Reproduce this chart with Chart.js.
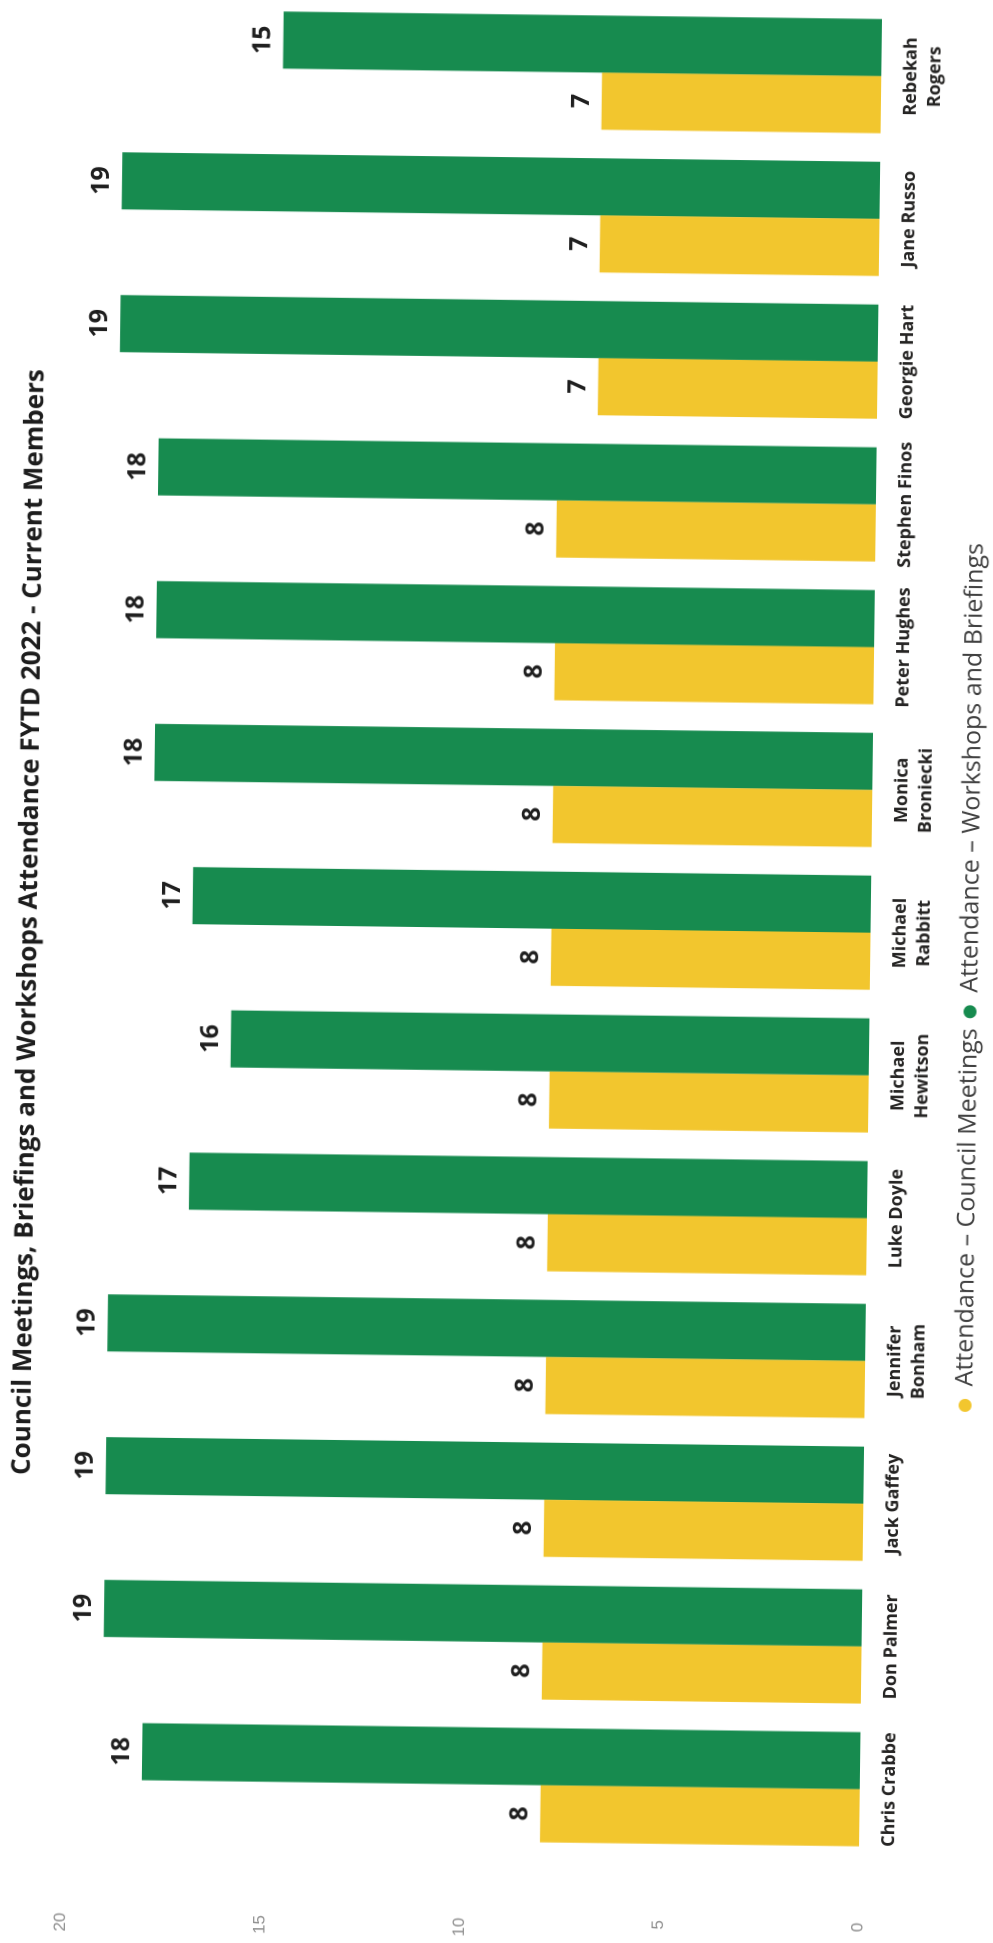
<!DOCTYPE html>
<html>
<head>
<meta charset="utf-8">
<title>Council Meetings, Briefings and Workshops Attendance FYTD 2022</title>
<script src="https://cdn.jsdelivr.net/npm/chart.js@4"></script>
<style>
    html, body { margin: 0; padding: 0; background: #fff; overflow: hidden; }
    #page {
        position: absolute; left: 0; top: 0;
        width: 993px; height: 1943px;
        transform-origin: 496.5px 971.5px;
        transform: rotate(0.72deg);
    }
    /* the chart is laid out landscape and turned onto the portrait page */
    #turn {
        position: absolute; left: 0; top: 0;
        width: 1943px; height: 993px;
        transform-origin: 0 0;
        transform: translate(0, 1943px) rotate(-90deg);
    }
</style>
</head>
<body>
<div id="page">
    <div id="turn">
        <canvas id="attendanceChart" width="1943" height="993"></canvas>
    </div>
</div>
<script>
const members = [
    'Chris Crabbe', 'Don Palmer', 'Jack Gaffey', ['Jennifer', 'Bonham'], 'Luke Doyle',
    ['Michael', 'Hewitson'], ['Michael', 'Rabbitt'], ['Monica', 'Broniecki'], 'Peter Hughes',
    'Stephen Finos', 'Georgie Hart', 'Jane Russo', ['Rebekah', 'Rogers']
];
const councilMeetings = [8, 8, 8, 8, 8, 8, 8, 8, 8, 8, 7, 7, 7];
const workshopsBriefings = [18, 19, 19, 19, 17, 16, 17, 18, 18, 18, 19, 19, 15];
const valueTicks = [0, 5, 10, 15, 20];

// value printed above the end of each bar
const barValueLabels = {
    id: 'barValueLabels',
    afterDatasetsDraw(chart) {
        const ctx = chart.ctx;
        ctx.save();
        ctx.font = 'bold 25px "Open Sans"';
        ctx.fillStyle = '#1f1f1f';
        ctx.textAlign = 'center';
        ctx.textBaseline = 'alphabetic';
        chart.data.datasets.forEach((ds, i) => {
            chart.getDatasetMeta(i).data.forEach((bar, j) => {
                ctx.fillText(ds.data[j], bar.x, bar.y - 13);
            });
        });
        ctx.restore();
    }
};

Chart.defaults.font.family = '"Open Sans", sans-serif';

const attendanceChart = new Chart(document.getElementById('attendanceChart'), {
    type: 'bar',
    data: {
        labels: members,
        datasets: [{
            label: 'Attendance – Council Meetings',
            data: councilMeetings,
            backgroundColor: '#f2c62e',
            categoryPercentage: 0.8,
            barPercentage: 1.0
        }, {
            label: 'Attendance – Workshops and Briefings',
            data: workshopsBriefings,
            backgroundColor: '#178b4f',
            categoryPercentage: 0.8,
            barPercentage: 1.0
        }]
    },
    options: {
        responsive: false,
        animation: false,
        devicePixelRatio: 2,
        layout: { padding: 0 },
        scales: {
            x: {
                grid: { display: false, drawTicks: false },
                border: { display: false },
                ticks: {
                    color: '#252423',
                    font: { size: 18, weight: 'bold', lineHeight: '24px' },
                    padding: 18,
                    maxRotation: 0,
                    minRotation: 0,
                    autoSkip: false
                },
                afterFit(scale) { scale.height = 78; }
            },
            y: {
                min: 0,
                max: 20,
                grid: { display: false, drawTicks: false },
                border: { display: false },
                ticks: {
                    color: '#8f8f8f',
                    font: { family: '"Liberation Sans", sans-serif', size: 17 },
                    padding: 62
                },
                afterBuildTicks(scale) { scale.ticks = valueTicks.map(v => ({ value: v })); },
                afterFit(scale) { scale.width = 87; }
            }
        },
        plugins: {
            title: {
                display: true,
                text: 'Council Meetings, Briefings and Workshops Attendance FYTD 2022 - Current Members',
                color: '#1d1d1d',
                fullSize: false,
                font: { size: 26, weight: 'bold' },
                padding: { top: 10, bottom: 28 }
            },
            legend: {
                position: 'bottom',
                labels: {
                    color: '#404040',
                    font: { size: 25 },
                    usePointStyle: true,
                    pointStyle: 'circle',
                    pointStyleWidth: 13,
                    boxHeight: 9.2,
                    padding: 10
                }
            },
            tooltip: { enabled: false }
        }
    },
    plugins: [barValueLabels]
});
</script>
</body>
</html>
